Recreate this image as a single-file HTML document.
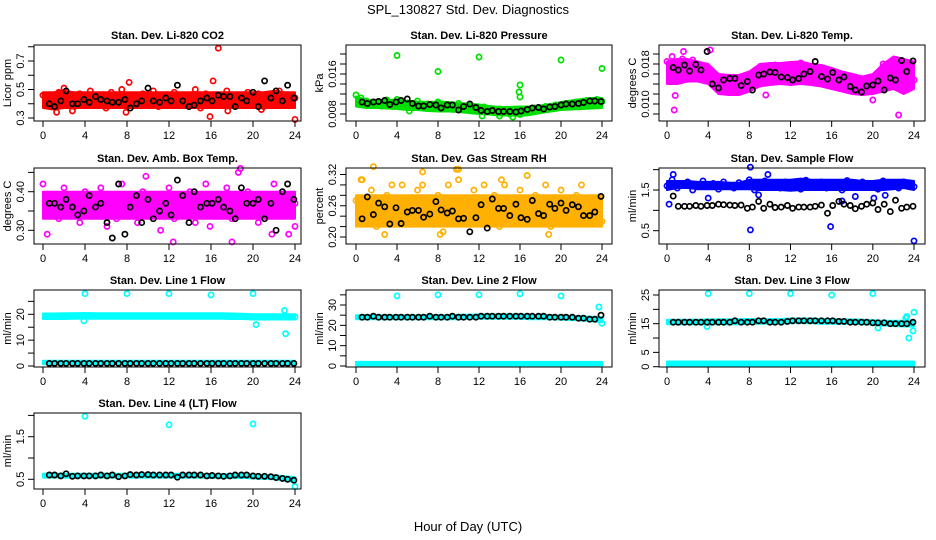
<!DOCTYPE html>
<html><head><meta charset="utf-8"><style>
html,body{margin:0;padding:0;background:#fff;}
svg{display:block;font-family:"Liberation Sans",Arial,sans-serif;}
</style></head><body>
<svg id="chart" width="936" height="540" viewBox="0 0 936 540">
<text x="468" y="14" text-anchor="middle" font-size="13">SPL_130827  Std. Dev. Diagnostics</text>
<text x="468" y="531" text-anchor="middle" font-size="13">Hour of Day (UTC)</text>
</svg>
<script>
// ---- shared hour arrays ----
const bandHours=[0,1,2,3,4,5,6,7,8,9,10,11,12,13,14,15,16,17,18,19,20,21,22,23,24];
const ptHours=[0,0.5,1,1.5,2,2.5,3,3.5,4,4.5,5,5.5,6,6.5,7,7.5,8,8.5,9,9.5,10,10.5,11,11.5,12,12.5,13,13.5,14,14.5,15,15.5,16,16.5,17,17.5,18,18.5,19,19.5,20,20.5,21,21.5,22,22.5,23,23.5,24];
const blackHours=[0.6,1.1,1.7,2.2,2.8,3.3,3.9,4.4,5,5.5,6.1,6.6,7.2,7.8,8.3,8.9,9.4,10,10.5,11.1,11.7,12.2,12.8,13.3,13.9,14.4,15,15.6,16.1,16.7,17.2,17.8,18.3,18.9,19.4,20,20.5,21.1,21.7,22.2,22.8,23.3,23.9];

// ---- CO2 ----
const co2Lo=[0.37,0.36,0.37,0.37,0.37,0.37,0.37,0.37,0.37,0.37,0.37,0.37,0.37,0.37,0.37,0.37,0.37,0.37,0.37,0.37,0.37,0.37,0.37,0.37,0.37];
const co2Hi=[0.48,0.48,0.49,0.48,0.48,0.48,0.48,0.48,0.48,0.48,0.48,0.48,0.48,0.48,0.48,0.48,0.48,0.48,0.48,0.48,0.48,0.48,0.49,0.48,0.48];
const co2Pts=[0.46,0.42,0.39,0.48,0.51,0.44,0.38,0.47,0.43,0.49,0.40,0.45,0.37,0.48,0.44,0.50,0.41,0.46,0.39,0.47,0.43,0.49,0.38,0.45,0.42,0.48,0.40,0.46,0.44,0.50,0.37,0.47,0.43,0.45,0.39,0.49,0.42,0.46,0.40,0.48,0.44,0.47,0.38,0.45,0.43,0.49,0.41,0.46,0.44];
const co2OutHours=[16.7,15.9,24,8.2,16.2,1.3,7.9,17.6,2.8,20.8];
const co2OutVals=[0.79,0.31,0.29,0.55,0.56,0.34,0.34,0.35,0.35,0.36];
const co2Black=[0.40,0.38,0.42,0.49,0.40,0.40,0.43,0.41,0.45,0.43,0.42,0.41,0.41,0.43,0.37,0.40,0.42,0.51,0.42,0.41,0.44,0.42,0.53,0.42,0.38,0.39,0.42,0.44,0.42,0.46,0.45,0.45,0.38,0.44,0.42,0.48,0.38,0.56,0.44,0.49,0.42,0.53,0.44];

// ---- Pressure ----
const presLo=[0.0095,0.0092,0.0092,0.0091,0.009,0.0088,0.0088,0.0086,0.0085,0.0085,0.0084,0.0082,0.008,0.0079,0.0077,0.0077,0.0076,0.0078,0.0082,0.0085,0.0088,0.0089,0.009,0.0091,0.0092];
const presHi=[0.0115,0.0108,0.0108,0.0108,0.0109,0.0106,0.0105,0.0104,0.0105,0.0104,0.0102,0.0101,0.0099,0.0096,0.0094,0.0094,0.0095,0.0095,0.0097,0.0100,0.0104,0.0107,0.011,0.0112,0.0112];
const presPts=[0.0118,0.0112,0.0106,0.0098,0.0104,0.0096,0.0108,0.0100,0.0109,0.0095,0.0102,0.0097,0.0106,0.0093,0.0100,0.0096,0.0104,0.0092,0.0099,0.0094,0.0101,0.0090,0.0097,0.0092,0.0086,0.0094,0.0088,0.0083,0.0090,0.0085,0.0080,0.0087,0.0079,0.0089,0.0084,0.0092,0.0087,0.0095,0.0090,0.0098,0.0093,0.0101,0.0096,0.0104,0.0099,0.0107,0.0102,0.0109,0.0105];
const presOutHours=[4,8,12,16,20,24,15.9,16,5.2,12.3,15.3,14];
const presOutVals=[0.0197,0.0165,0.0194,0.0138,0.0188,0.0171,0.0124,0.0114,0.0086,0.0076,0.0074,0.0076];
const presBlack=[0.0104,0.0101,0.0104,0.0105,0.0107,0.0099,0.0104,0.0107,0.0110,0.0101,0.0096,0.0096,0.0099,0.0098,0.0092,0.0098,0.0098,0.0088,0.0095,0.0100,0.0093,0.0087,0.0085,0.0087,0.0085,0.0085,0.0085,0.0084,0.0086,0.0089,0.0092,0.0093,0.0090,0.0094,0.0095,0.0098,0.0100,0.0100,0.0101,0.0103,0.0106,0.0106,0.0105];

// ---- Li-820 Temp ----
const tempLo=[0.014,0.014,0.0145,0.0145,0.014,0.012,0.0118,0.0118,0.0125,0.0135,0.0138,0.014,0.0138,0.014,0.0138,0.0135,0.013,0.0125,0.012,0.0118,0.012,0.0125,0.013,0.012,0.013];
const tempHi=[0.0185,0.019,0.019,0.0185,0.018,0.016,0.0158,0.0158,0.0165,0.018,0.0182,0.0182,0.0184,0.0185,0.018,0.0178,0.0172,0.0165,0.016,0.0155,0.016,0.018,0.0195,0.019,0.0185];
const tempPts=[0.0185,0.0175,0.0165,0.019,0.0162,0.0188,0.0158,0.0175,0.0165,0.0142,0.0135,0.0128,0.0145,0.0125,0.0138,0.0128,0.014,0.015,0.016,0.0172,0.0168,0.0178,0.0165,0.0158,0.0175,0.017,0.0182,0.0165,0.0175,0.0162,0.0168,0.016,0.015,0.0142,0.0135,0.0148,0.0128,0.0138,0.0125,0.0132,0.0128,0.0145,0.018,0.0175,0.0155,0.016,0.0182,0.0178,0.0148];
const tempOutHours=[0.7,1.6,0.8,22.5,20,4.2,0.5,9.6];
const tempOutVals=[0.0088,0.0205,0.0117,0.0078,0.0108,0.0208,0.0195,0.0118];
const tempBlack=[0.0173,0.0168,0.0178,0.0166,0.0179,0.0168,0.0205,0.0140,0.0132,0.0148,0.0151,0.0151,0.0137,0.0145,0.0128,0.0158,0.0160,0.0164,0.0163,0.0154,0.0153,0.0148,0.0151,0.0160,0.0165,0.0185,0.0155,0.0150,0.0163,0.0148,0.0154,0.0135,0.0128,0.0124,0.0136,0.0138,0.0146,0.0128,0.0152,0.0148,0.0187,0.0165,0.0186];

// ---- Amb Box Temp ----
const ambLo=[0.33,0.33,0.33,0.33,0.33,0.33,0.33,0.33,0.33,0.33,0.33,0.33,0.33,0.33,0.33,0.33,0.33,0.33,0.33,0.33,0.33,0.33,0.33,0.33,0.33];
const ambHi=[0.40,0.40,0.40,0.40,0.40,0.40,0.40,0.40,0.40,0.40,0.40,0.40,0.40,0.40,0.40,0.40,0.40,0.40,0.40,0.40,0.40,0.40,0.40,0.40,0.40];
const ambPts=[0.42,0.36,0.39,0.33,0.41,0.35,0.38,0.32,0.40,0.37,0.34,0.41,0.36,0.39,0.33,0.42,0.35,0.38,0.32,0.40,0.37,0.34,0.39,0.36,0.41,0.33,0.38,0.35,0.40,0.32,0.37,0.42,0.34,0.39,0.36,0.41,0.33,0.38,0.35,0.40,0.37,0.32,0.39,0.36,0.42,0.34,0.38,0.35,0.37];
const ambOutHours=[0.4,12.4,18,18.6,18.8,9.8,11.2,15.9,21.8,23.4,24,6.1];
const ambOutVals=[0.29,0.27,0.27,0.45,0.46,0.44,0.30,0.31,0.29,0.29,0.31,0.31];
const ambBlack=[0.37,0.37,0.36,0.38,0.36,0.34,0.35,0.39,0.36,0.37,0.32,0.28,0.42,0.29,0.36,0.39,0.32,0.38,0.33,0.35,0.37,0.34,0.43,0.39,0.32,0.40,0.36,0.37,0.37,0.38,0.36,0.35,0.33,0.41,0.37,0.37,0.38,0.33,0.37,0.30,0.40,0.42,0.38];

// ---- Gas Stream RH ----
const rhLo=[0.22,0.22,0.22,0.22,0.22,0.22,0.22,0.22,0.22,0.22,0.22,0.22,0.22,0.22,0.22,0.22,0.22,0.22,0.22,0.22,0.22,0.22,0.22,0.22,0.22];
const rhHi=[0.28,0.28,0.28,0.28,0.28,0.28,0.28,0.28,0.28,0.28,0.28,0.28,0.28,0.28,0.28,0.28,0.28,0.28,0.28,0.28,0.28,0.28,0.28,0.28,0.28];
const rhPts=[0.27,0.31,0.24,0.29,0.22,0.26,0.28,0.30,0.25,0.30,0.23,0.27,0.29,0.30,0.24,0.26,0.28,0.21,0.30,0.25,0.31,0.27,0.23,0.29,0.26,0.30,0.24,0.28,0.22,0.30,0.25,0.27,0.29,0.23,0.26,0.28,0.24,0.30,0.22,0.27,0.29,0.25,0.23,0.28,0.30,0.24,0.27,0.25,0.23];
const rhOutHours=[1.7,6.5,9.8,16.7,10,2.8,8.2,14.2,18.8,0.6];
const rhOutVals=[0.335,0.325,0.33,0.318,0.33,0.205,0.205,0.31,0.205,0.31];
const rhBlack=[0.235,0.277,0.243,0.265,0.258,0.225,0.256,0.226,0.248,0.251,0.251,0.238,0.244,0.268,0.252,0.246,0.25,0.235,0.236,0.210,0.237,0.262,0.217,0.273,0.255,0.255,0.241,0.263,0.237,0.234,0.27,0.245,0.241,0.263,0.255,0.265,0.251,0.262,0.258,0.241,0.241,0.248,0.278];

// ---- Sample Flow ----
const sfLo=[1.5,1.55,1.55,1.52,1.52,1.52,1.52,1.52,1.52,1.5,1.5,1.5,1.48,1.5,1.5,1.5,1.5,1.5,1.5,1.5,1.5,1.5,1.52,1.55,1.5];
const sfHi=[1.72,1.72,1.72,1.7,1.7,1.7,1.68,1.68,1.75,1.75,1.75,1.75,1.75,1.78,1.75,1.75,1.75,1.75,1.75,1.72,1.72,1.75,1.75,1.75,1.72];
const sfPts=[1.6,1.75,1.55,1.65,1.7,1.5,1.6,1.72,1.58,1.66,1.52,1.7,1.62,1.55,1.68,1.6,1.75,1.5,1.65,1.72,1.58,1.63,1.55,1.7,1.6,1.66,1.52,1.74,1.58,1.62,1.7,1.55,1.68,1.6,1.5,1.73,1.62,1.56,1.7,1.58,1.64,1.52,1.72,1.6,1.68,1.55,1.7,1.62,1.58];
const sfOutHours=[0.2,0.6,8.1,8.1,15.9,9.8,24,4,8.9,17,18.3,21.2,20.1];
const sfOutVals=[1.15,1.88,0.52,2.06,0.6,1.88,0.25,1.3,1.38,1.23,1.34,1.37,1.3];
const sfBlack=[1.35,1.1,1.1,1.1,1.12,1.1,1.12,1.12,1.15,1.14,1.13,1.12,1.13,1.05,1.08,1.22,1.05,1.15,1.07,1.08,1.12,1.05,1.08,1.08,1.08,1.1,1.13,0.93,1.12,1.22,1.15,1.12,1.04,1.1,1.15,1.18,1.02,1.15,0.97,1.25,1.05,1.08,1.1];

// ---- Line 1 Flow ----
const l1Lo=[18.2,18.2,18.2,18.3,18.3,18.3,18.3,18.3,18.3,18.3,18.3,18.3,18.3,18.3,18.3,18.3,18.3,18.3,18.2,18.2,18.0,18.0,18.0,18.0,18.0];
const l1Hi=[20.3,20.3,20.4,20.4,20.5,20.4,20.4,20.4,20.4,20.4,20.4,20.4,20.4,20.4,20.4,20.4,20.4,20.4,20.3,20.2,20.0,20.0,20.0,20.0,20.0];
const l1LowLo=[0.7,0.7,0.7,0.7,0.7,0.7,0.7,0.7,0.7,0.7,0.7,0.7,0.7,0.7,0.7,0.7,0.7,0.7,0.7,0.7,0.7,0.7,0.7,0.7,0.7];
const l1LowHi=[2.0,2.0,2.0,2.0,2.0,2.0,2.0,2.0,2.0,2.0,2.0,2.0,2.0,2.0,2.0,2.0,2.0,2.0,2.0,2.0,2.0,2.0,2.0,2.0,2.0];
const l1OutHours=[4,8,12,16,20,23,23.1,20.3,3.9,24];
const l1OutVals=[28,28,28,27.5,28,21.5,12.5,16,17.5,19];
const l1Black=[1,1,1,1,1,1,1,1,1,1,1,1,1,1,1,1,1,1,1,1,1,1,1,1,1,1,1,1,1,1,1,1,1,1,1,1,1,1,1,1,1,1,1];

// ---- Line 2 Flow ----
const l2Lo=[23,23,23,23,23,23,23,23,23,23,23,23.2,23.2,23.2,23.2,23.2,23.2,23,23,23,22.8,22.6,22.4,22,21.5];
const l2Hi=[25,25,25,25,25,25,25,25,25,25,25.2,25.2,25.4,25.4,25.4,25.4,25.4,25.2,25,25,24.8,24.6,24.4,24.2,24];
const l2LowLo=[0.3,0.3,0.3,0.3,0.3,0.3,0.3,0.3,0.3,0.3,0.3,0.3,0.3,0.3,0.3,0.3,0.3,0.3,0.3,0.3,0.3,0.3,0.3,0.3,0.3];
const l2LowHi=[2.0,2.0,2.0,2.0,2.0,2.0,2.0,2.0,2.0,2.0,2.0,2.0,2.0,2.0,2.0,2.0,2.0,2.0,2.0,2.0,2.0,2.0,2.0,2.0,2.0];
const l2OutHours=[4,8,12,16,20,23.7,24];
const l2OutVals=[34.5,35,35,35.5,34.5,29,21];
const l2Black=[24,24,24.5,24,24,24,24,24,24,24,24,24,24.5,24,24,24,24.5,24,24,24,24,24.5,24.5,24.5,24.5,24.5,24.5,24.5,24.5,24.5,24.5,24.5,24.5,24,24,24,24,24,23.5,23.5,23,23,25];

// ---- Line 3 Flow ----
const l3Lo=[14.8,14.8,14.8,14.8,14.8,14.8,14.8,14.8,15,15,15,15,15.2,15.2,15.2,15,15,15,15,14.8,14.6,14.4,14.2,14,14];
const l3Hi=[16.4,16.4,16.4,16.4,16.5,16.5,16.5,16.6,16.6,16.6,16.6,16.6,16.8,16.8,16.8,16.6,16.6,16.5,16.5,16.4,16.2,16,16,16,16];
const l3LowLo=[0.3,0.3,0.3,0.3,0.3,0.3,0.3,0.3,0.3,0.3,0.3,0.3,0.3,0.3,0.3,0.3,0.3,0.3,0.3,0.3,0.3,0.3,0.3,0.3,0.3];
const l3LowHi=[1.8,1.8,1.8,1.8,1.8,1.8,1.8,1.8,1.8,1.8,1.8,1.8,1.8,1.8,1.8,1.8,1.8,1.8,1.8,1.8,1.8,1.8,1.8,1.8,1.8];
const l3OutHours=[4,8,12,16,20,23.3,23.5,23.2,24,23.9,20.5,3.9];
const l3OutVals=[25.5,25.5,25.5,25,25.5,17.5,10,17,19,12.5,13.5,14];
const l3Black=[15.5,15.5,15.5,15.5,15.5,15.5,15.5,15.5,15.5,15.5,15.5,16,15.5,15.5,15.5,16,16,15.5,15.5,15.5,15.8,16,16,16,16,16,16,16,16,15.8,15.8,15.5,15.5,15.5,15.5,15.3,15.3,15.3,15,15,15,15,15.5];

// ---- Line 4 Flow ----
const l4Lo=[0.54,0.54,0.54,0.54,0.54,0.54,0.54,0.54,0.54,0.54,0.54,0.54,0.54,0.54,0.54,0.54,0.53,0.53,0.53,0.53,0.52,0.51,0.5,0.47,0.44];
const l4Hi=[0.63,0.63,0.63,0.63,0.63,0.63,0.63,0.63,0.63,0.63,0.63,0.63,0.63,0.63,0.63,0.63,0.62,0.62,0.62,0.62,0.61,0.6,0.59,0.57,0.55];
const l4OutHours=[4,12,20,24];
const l4OutVals=[1.98,1.78,1.8,0.33];
const l4Black=[0.6,0.6,0.58,0.63,0.57,0.58,0.58,0.58,0.58,0.6,0.58,0.6,0.56,0.58,0.61,0.6,0.61,0.61,0.6,0.6,0.6,0.6,0.55,0.6,0.6,0.6,0.6,0.58,0.59,0.58,0.57,0.58,0.6,0.6,0.6,0.58,0.57,0.57,0.56,0.54,0.52,0.5,0.48];

const NS='http://www.w3.org/2000/svg';
const svg=document.getElementById('chart');
function mk(tag,attrs,parent){const e=document.createElementNS(NS,tag);for(const k in attrs)e.setAttribute(k,attrs[k]);(parent||svg).appendChild(e);return e;}

const cols=[{bx0:34,bx1:301,h0:43,h24:295},{bx0:346,bx1:612,h0:356,h24:602},{bx0:659,bx1:925,h0:667,h24:914}];
const rows=[{y0:45,y1:121},{y0:168,y1:244},{y0:290,y1:367},{y0:413,y1:489}];
const xTicks=[0,4,8,12,16,20,24];

const panels=[
 {key:'co2',title:'Stan. Dev. Li-820 CO2',ylab:'Licor ppm',c:0,r:0,color:'#ff0000',ref:[0.3,118,0.7,61],ticks:[0.3,0.4,0.5,0.6,0.7,0.8],labels:['0.3','','0.5','','0.7',''],bands:[[co2Lo,co2Hi]],pts:co2Pts,outH:co2OutHours,outV:co2OutVals,black:co2Black},
 {key:'pressure',title:'Stan. Dev. Li-820 Pressure',ylab:'kPa',c:1,r:0,color:'#00e000',ref:[0.008,114,0.016,74],ticks:[0.008,0.010,0.012,0.014,0.016,0.018,0.020],labels:['0.008','','','','0.016','',''],bands:[[presLo,presHi]],pts:presPts,outH:presOutHours,outV:presOutVals,black:presBlack},
 {key:'li820-temp',title:'Stan. Dev. Li-820 Temp.',ylab:'degrees C',c:2,r:0,color:'#ff00ff',ref:[0.010,104,0.018,64],ticks:[0.008,0.010,0.012,0.014,0.016,0.018,0.020],labels:['','0.010','','','','0.018',''],bands:[[tempLo,tempHi]],pts:tempPts,outH:tempOutHours,outV:tempOutVals,black:tempBlack},
 {key:'amb-box-temp',title:'Stan. Dev. Amb. Box Temp.',ylab:'degrees C',c:0,r:1,color:'#ff00ff',ref:[0.30,230.3,0.40,191.7],ticks:[0.30,0.35,0.40,0.45],labels:['0.30','','0.40',''],bands:[[ambLo,ambHi]],pts:ambPts,outH:ambOutHours,outV:ambOutVals,black:ambBlack},
 {key:'gas-rh',title:'Stan. Dev. Gas Stream RH',ylab:'percent',c:1,r:1,color:'#ffb000',ref:[0.20,237,0.32,174.5],ticks:[0.20,0.22,0.24,0.26,0.28,0.30,0.32],labels:['0.20','','','0.26','','','0.32'],bands:[[rhLo,rhHi]],pts:rhPts,outH:rhOutHours,outV:rhOutVals,black:rhBlack},
 {key:'sample-flow',title:'Stan. Dev. Sample Flow',ylab:'ml/min',c:2,r:1,color:'#0000ff',ref:[0.5,230.7,1.5,190],ticks:[0.5,1.0,1.5,2.0],labels:['0.5','','1.5',''],bands:[[sfLo,sfHi]],pts:sfPts,outH:sfOutHours,outV:sfOutVals,black:sfBlack},
 {key:'line1-flow',title:'Stan. Dev. Line 1 Flow',ylab:'ml/min',c:0,r:2,color:'#00ffff',ref:[0,366,20,314.3],ticks:[0,5,10,15,20,25],labels:['0','','10','','20',''],bands:[[l1Lo,l1Hi],[l1LowLo,l1LowHi]],pts:null,outH:l1OutHours,outV:l1OutVals,black:l1Black},
 {key:'line2-flow',title:'Stan. Dev. Line 2 Flow',ylab:'ml/min',c:1,r:2,color:'#00ffff',ref:[0,366,30,305],ticks:[0,5,10,15,20,25,30,35],labels:['0','','10','','20','','30',''],bands:[[l2Lo,l2Hi],[l2LowLo,l2LowHi]],pts:null,outH:l2OutHours,outV:l2OutVals,black:l2Black},
 {key:'line3-flow',title:'Stan. Dev. Line 3 Flow',ylab:'ml/min',c:2,r:2,color:'#00ffff',ref:[0,366.7,25,295],ticks:[0,5,10,15,20,25],labels:['0','5','','15','','25'],bands:[[l3Lo,l3Hi],[l3LowLo,l3LowHi]],pts:null,outH:l3OutHours,outV:l3OutVals,black:l3Black},
 {key:'line4-flow',title:'Stan. Dev. Line 4 (LT) Flow',ylab:'ml/min',c:0,r:3,color:'#00ffff',ref:[0.5,479.3,1.5,436.7],ticks:[0.5,1.0,1.5,2.0],labels:['0.5','','1.5',''],bands:[[l4Lo,l4Hi]],pts:null,outH:l4OutHours,outV:l4OutVals,black:l4Black}
];

function circle(g,x,y,color,name){
  const c=mk('circle',{cx:x.toFixed(1),cy:y.toFixed(1),r:2.6,fill:'none',stroke:color,'stroke-width':1.7},g);
  
  
}

panels.forEach(p=>{
  const col=cols[p.c],row=rows[p.r];
  const xs=h=>col.h0+(col.h24-col.h0)*h/24;
  const ys=v=>p.ref[1]+(v-p.ref[0])*(p.ref[3]-p.ref[1])/(p.ref[2]-p.ref[0]);
  const g=mk('g',{});
  
  
  const t=mk('text',{x:(col.bx0+col.bx1)/2,y:row.y0-6,'text-anchor':'middle','font-size':11,'font-weight':'bold'},g);
  t.textContent=p.title;
  
  
  const cy=(row.y0+row.y1)/2;
  const yl=mk('text',{x:col.bx0-23,y:cy,'text-anchor':'middle','font-size':11,transform:`rotate(-90 ${col.bx0-23} ${cy})`},g);
  yl.textContent=p.ylab;
  
  
  p.bands.forEach((b,bi)=>{
    let d='';
    bandHours.forEach((h,i)=>{d+=(i?'L':'M')+xs(h).toFixed(1)+','+ys(b[1][i]).toFixed(1);});
    for(let i=bandHours.length-1;i>=0;i--)d+='L'+xs(bandHours[i]).toFixed(1)+','+ys(b[0][i]).toFixed(1);
    const path=mk('path',{d:d+'Z',fill:p.color,stroke:p.color,'stroke-width':2,'stroke-linejoin':'round'},g);
    
    
  });
  if(p.pts){p.pts.forEach((v,i)=>circle(g,xs(ptHours[i]),ys(v),p.color,p.key+'-point'));}
  p.outH.forEach((h,i)=>circle(g,xs(h),ys(p.outV[i]),p.color,p.key+'-outlier'));
  p.black.forEach((v,i)=>circle(g,xs(blackHours[i]),ys(v),'#000000',p.key+'-black-point'));
  const box=mk('rect',{x:col.bx0,y:row.y0,width:col.bx1-col.bx0,height:row.y1-row.y0,fill:'none',stroke:'#000','stroke-width':1},g);
  
  
  xTicks.forEach(h=>{
    const x=xs(h);
    mk('line',{x1:x,x2:x,y1:row.y1,y2:row.y1+6,stroke:'#000'},g);
    const tl=mk('text',{x:x,y:row.y1+18,'text-anchor':'middle','font-size':11},g);
    tl.textContent=String(h);
    
    
  });
  p.ticks.forEach((v,i)=>{
    const y=ys(v);
    mk('line',{x1:col.bx0-6,x2:col.bx0,y1:y,y2:y,stroke:'#000'},g);
    if(p.labels[i]){
      const lx=col.bx0-10;
      const tl=mk('text',{x:lx,y:y,'text-anchor':'middle','font-size':11,transform:`rotate(-90 ${lx} ${y})`},g);
      tl.textContent=p.labels[i];
      
      
    }
  });
});
</script>
</body></html>
